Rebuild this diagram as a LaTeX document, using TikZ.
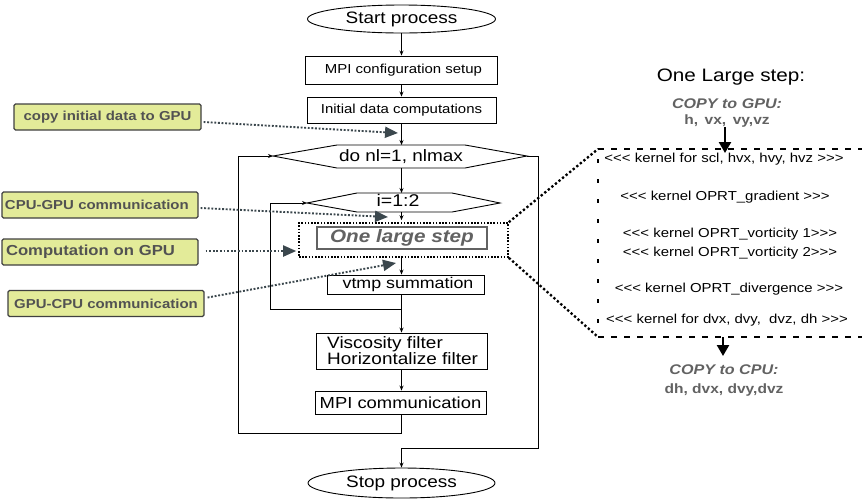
\documentclass[tikz,border=0pt]{standalone}
\usepackage{fontspec}
\setmainfont{Liberation Sans}[FakeStretch=1.15]
% same face without the TeX ligatures, so that <<< and >>> stay as typed
\newfontfamily\codefont{Liberation Sans}[FakeStretch=1.15]
\usetikzlibrary{arrows.meta,calc,shapes.geometric}
\definecolor{labelgreen}{HTML}{E3EB99}
\definecolor{labeltext}{HTML}{525252}
\definecolor{hintcol}{HTML}{3B474D}
\definecolor{softgray}{HTML}{626262}
\newcommand\fsz[2]{\fontsize{#1}{#2}\selectfont}

\begin{document}
\begin{tikzpicture}[x=1pt,y=-1pt,
  flowbox/.style={draw, line width=0.9pt, inner sep=0pt, font=\fsz{13}{15}},
  flowline/.style={line width=0.9pt},
  flowarrow/.style={line width=0.9pt, -{Stealth[length=5pt,width=4pt]}},
  hint/.style={draw=black!75, line width=1.1pt, fill=labelgreen, rounded corners=1.5pt,
    minimum height=26pt, inner ysep=0pt, text=labeltext, font=\bfseries\fsz{13}{15}},
  hintarrow/.style={draw=hintcol, line width=1.9pt, dash pattern=on 1.9pt off 1.7pt,
    -{Triangle[length=13pt,width=11pt]}},
  zoomline/.style={line width=2.3pt, dash pattern=on 2.3pt off 2.3pt},
  bigarrow/.style={line width=2.4pt, -{Triangle[length=11pt,width=12pt]}},
  kernel/.style={font=\codefont\fsz{13}{15}, inner sep=0pt},
  gputext/.style={text=softgray, inner sep=0pt}
]
\useasboundingbox (0,0) rectangle (866,499);

% vertical axis of the flow
\coordinate (fx) at (401.5,0);

% ---------- main flow ----------
\node[draw, ellipse, line width=0.9pt, minimum width=188, minimum height=28, inner sep=0pt,
      font=\fsz{16.5}{18}] (start) at (401.5,19) {Start process};
\node[flowbox, minimum width=192, minimum height=28] (mpicfg) at (401.5,70) {\hspace*{4pt}MPI configuration setup};
\node[flowbox, minimum width=189, minimum height=26] (init) at (401.5,110) {Initial data computations};

% outer loop hexagon
\coordinate (doW) at (273,156);
\coordinate (doE) at (527,156);
\coordinate (doT) at (401.5,145);
\coordinate (doB) at (401.5,168);
\draw[flowline] (doW) -- (337,145) -- (465,145) -- (doE) -- (465,168) -- (337,168) -- cycle;
\node[font=\fsz{16.5}{18}, inner sep=0pt] (doloop) at (401,157) {do nl=1, nlmax};

% inner loop hexagon
\coordinate (iW) at (307,203);
\coordinate (iT) at (401.5,193);
\coordinate (iB) at (401.5,212);
\draw[flowline] (iW) -- (357,193) -- (452,193) -- (500,203) -- (452,212) -- (357,212) -- cycle;
\node[font=\fsz{17}{18}, inner sep=0pt] (iloop) at (398,200.5) {i=1:2};

% one large step
\node[draw, line width=1.6pt, dash pattern=on 1.6pt off 1.6pt, minimum width=209, minimum height=34,
      inner sep=0pt] (olsframe) at (403.5,240) {};
\node[draw=softgray, line width=1.5pt, minimum width=170, minimum height=22, inner sep=0pt,
      text=softgray, font=\bfseries\itshape\fsz{18}{20}] (ols) at (402,238) {One large step};

\node[flowbox, minimum width=157, minimum height=19, font=\fsz{15.5}{17}] (vtmp) at (405.5,284.5) {\hspace*{5pt}vtmp summation};

\node[flowbox, minimum width=171, minimum height=36] (visc) at (401.5,351) {};
\node[font=\fsz{16.5}{16}, align=left, anchor=west, inner sep=0pt] (visctext) at (327,351)
  {Viscosity filter\\Horizontalize filter};
\node[flowbox, minimum width=171, minimum height=23, font=\fsz{16}{18}] (mpicomm) at (400.5,402.5) {MPI communication};

\node[draw, ellipse, line width=0.9pt, minimum width=187, minimum height=30, inner sep=0pt,
      font=\fsz{16.5}{18}] (stop) at (401.5,483) {Stop process};

% connectors
\draw[flowarrow] (start.south -| fx) -- (mpicfg.north -| fx);
\draw[flowarrow] (mpicfg.south -| fx) -- (init.north -| fx);
\draw[flowarrow] (init.south -| fx) -- (doT);
\draw[flowarrow] (doB) -- (iT);
\draw[flowarrow] (iB) -- ($(olsframe.north -| fx)+(0,-2)$);
\draw[flowarrow] (olsframe.south -| fx) -- (vtmp.north -| fx);
\draw[flowarrow] (vtmp.south -| fx) -- (visc.north -| fx);
\coordinate (innerjoin) at (401.5,309);
\draw[flowarrow] (innerjoin) -| (270,203) -- (iW);
\draw[flowarrow] (visc.south -| fx) -- (mpicomm.north -| fx);
\draw[flowarrow] (mpicomm.south -| fx) -- (401.5,433) -| (238,156) -- (doW);
\draw[flowarrow] (doE) -- (538,156) -- (538,448) -- (401.5,448) -- (stop.north);

% ---------- side notes ----------
\node[hint, minimum width=187, align=center] (l1) at (107.5,117) {copy initial data to GPU};
\node[hint, minimum width=196, text width=190, inner xsep=3pt, align=left] (l2) at (100,205) {CPU-GPU communication};
\node[hint, minimum width=196, text width=188, inner xsep=4pt, align=left, font=\bfseries\fsz{14.5}{16}] (l3) at (100,252) {Computation on GPU};
\node[hint, minimum width=196, align=center] (l4) at (106,303.5) {GPU-CPU communication};

\draw[hintarrow] ($(l1.east)+(2,5)$) -- (398,133);
\draw[hintarrow] ($(l2.east)+(2,3)$) -- (388,217);
\draw[hintarrow] ($(l3.east)+(7,-1)$) -- ($(olsframe.west)+(-2,11)$);
\draw[hintarrow] ($(l4.east)+(3,-6)$) -- (396,263);

% ---------- detail of one large step ----------
\coordinate (dtl) at (598,149);
\coordinate (dtr) at (862,149);
\coordinate (dbl) at (598,337);
\coordinate (dbr) at (862,337);
\draw[zoomline] (olsframe.north east) -- (dtl);
\draw[zoomline] (olsframe.south east) -- (dbl);
\draw[line width=2.5pt, dash pattern=on 6pt off 7pt] (dtl) -- (dtr);
\draw[line width=2.5pt, dash pattern=on 6pt off 7pt] (dbl) -- (dbr);
\draw[line width=2.5pt, dash pattern=on 4pt off 16pt] ($(dtl)+(0,10)$) -- (dbl);

\node[font=\fsz{18}{20}, inner sep=0pt] (title) at (731,77) {One Large step:};
\node[gputext, font=\bfseries\itshape\fsz{14}{16}] (togpu) at (727,104) {COPY to GPU:};
\node[gputext, font=\bfseries\fsz{13.5}{15}] (gpuvars) at (727,121) {h,\, vx,\, vy,vz};
\draw[bigarrow] (725,127) -- (725,153);

\node[kernel] (k1) at (724,159) {<<< kernel for scl, hvx, hvy, hvz >>>};
\node[kernel] (k2) at (725,197) {<<< kernel OPRT\_gradient >>>};
\node[kernel] (k3) at (730,234) {<<< kernel OPRT\_vorticity 1>>>};
\node[kernel] (k4) at (730,253) {<<< kernel OPRT\_vorticity 2>>>};
\node[kernel] (k5) at (729,289) {<<< kernel OPRT\_divergence >>>};
\node[kernel] (k6) at (727,320) {<<< kernel for dvx, dvy,\ \ dvz, dh >>>};

\draw[bigarrow] (723,337) -- (723,356);
\node[gputext, font=\bfseries\itshape\fsz{14}{16}] (tocpu) at (724,370) {COPY to CPU:};
\node[gputext, font=\bfseries\fsz{13.5}{15}] (cpuvars) at (724,390) {dh, dvx, dvy,dvz};
\end{tikzpicture}
\end{document}
